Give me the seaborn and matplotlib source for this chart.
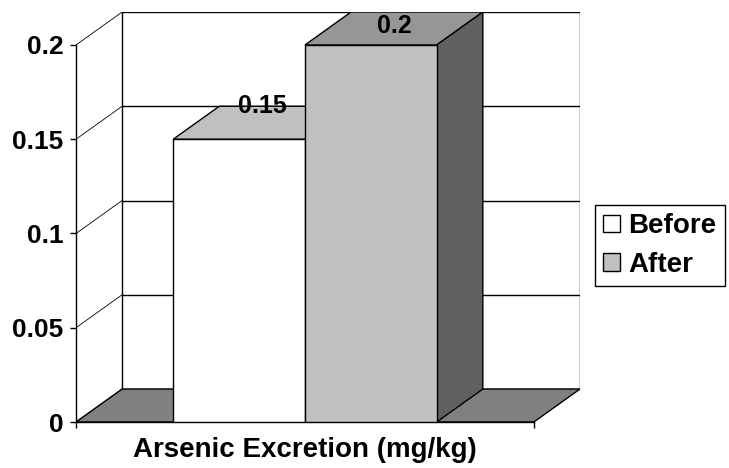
import numpy as np
import pandas as pd
import matplotlib
matplotlib.use("Agg")
import matplotlib.pyplot as plt
from matplotlib.patches import Polygon, Rectangle
import seaborn as sns

# data
category = "Arsenic Excretion (mg/kg)"
periods = ["Before", "After"]
values = [0.15, 0.2]
y_ticks = [0, 0.05, 0.1, 0.15, 0.2]
y_tick_labels = ["0", "0.05", "0.1", "0.15", "0.2"]

front_colors = {"Before": "#ffffff", "After": "#c0c0c0"}
top_colors = {"Before": "#c0c0c0", "After": "#969696"}
side_colors = {"Before": "#969696", "After": "#606060"}

sns.set_style("white")
plt.rcParams["font.family"] = ["Liberation Sans", "DejaVu Sans"]
plt.rcParams["font.weight"] = "bold"
plt.rcParams["text.color"] = "black"
plt.rcParams["xtick.color"] = "black"
plt.rcParams["ytick.color"] = "black"

df = pd.DataFrame({"measure": [category] * len(periods),
                   "period": periods,
                   "value": values})

fig, ax = plt.subplots(figsize=(7.29, 4.68), dpi=100)
ax.set_position([76 / 729, 46 / 468, 504 / 729, 410 / 468])

sns.barplot(data=df, x="measure", y="value", hue="period",
            palette=front_colors, saturation=1, edgecolor="black",
            linewidth=1, ax=ax, errorbar=None)
bars = sorted([p for c in ax.containers for p in c], key=lambda p: p.get_x())

# fake 3D depth (in data units)
dx, dy = 0.14, 0.0175
x_lo, x_hi = -0.695, 0.695
y_top = max(y_ticks)

ax.set_xlim(x_lo, x_hi + dx)
ax.set_ylim(0, y_top + dy)

# back wall, gridlines, left wall diagonals
ax.add_patch(Rectangle((x_lo + dx, dy), x_hi - x_lo, y_top, facecolor="white",
                       edgecolor="black", linewidth=1, zorder=0.5))
for t in y_ticks[1:-1]:
    ax.plot([x_lo + dx, x_hi + dx], [t + dy, t + dy], color="black", lw=1, zorder=0.6)
for t in y_ticks:
    ax.plot([x_lo, x_lo + dx], [t, t + dy], color="black", lw=0.6, zorder=0.6)

# floor
ax.add_patch(Polygon([(x_lo, 0), (x_hi, 0), (x_hi + dx, dy), (x_lo + dx, dy)],
                     closed=True, facecolor="#808080", edgecolor="black",
                     linewidth=1, zorder=1))

# tops and sides of the bars
for i, (bar, name, v) in enumerate(zip(bars, periods, values)):
    x0 = bar.get_x()
    x1 = x0 + bar.get_width()
    z = 2 + 2 * i
    ax.add_patch(Polygon([(x0, v), (x1, v), (x1 + dx, v + dy), (x0 + dx, v + dy)],
                         closed=True, facecolor=top_colors[name],
                         edgecolor="black", linewidth=1, zorder=z))
    ax.add_patch(Polygon([(x1, 0), (x1 + dx, dy), (x1 + dx, v + dy), (x1, v)],
                         closed=True, facecolor=side_colors[name],
                         edgecolor="black", linewidth=1, zorder=z))
    bar.set_zorder(z + 1)
    ly = min(v + dy, y_top + dy - 0.0075)
    ax.text((x0 + x1) / 2 + dx / 2, ly, f"{v:g}", ha="center", va="center",
            fontsize=18, fontweight="bold", color="black", zorder=10, clip_on=False)

# axes: front y axis and floor front edge
for s in ["top", "right"]:
    ax.spines[s].set_visible(False)
ax.spines["left"].set_bounds(0, y_top)
ax.spines["bottom"].set_bounds(x_lo, x_hi)
for s in ["left", "bottom"]:
    ax.spines[s].set_color("black")
    ax.spines[s].set_linewidth(1)
    ax.spines[s].set_zorder(1.5)

ax.set_yticks(y_ticks)
ax.set_yticklabels(y_tick_labels, fontsize=19, fontweight="bold")
ax.tick_params(axis="y", length=4, width=1, color="black", direction="out", pad=5, left=True)
ax.set_xticks([0])
ax.set_xticklabels([category], fontsize=20, fontweight="bold")
ax.set_xticks([x_lo, x_hi], minor=True)
ax.tick_params(axis="x", which="major", length=0, pad=11)
ax.tick_params(axis="x", which="minor", length=4, width=1, color="black", bottom=True)
ax.set_xlabel("")
ax.set_ylabel("")

leg = ax.legend(loc="upper left", bbox_to_anchor=(595 / 729, 1 - 205 / 468),
                bbox_transform=fig.transFigure, frameon=True, fancybox=False,
                framealpha=1, edgecolor="black", title=None,
                prop={"size": 20, "weight": "bold"}, handlelength=0.6,
                handleheight=0.6, handletextpad=0.3, labelspacing=0.45,
                borderpad=0.3, borderaxespad=0)
leg.get_frame().set_linewidth(1)
for h in leg.legend_handles:
    h.set_edgecolor("black")
    h.set_linewidth(1)

fig.savefig("out.png", dpi=100)
